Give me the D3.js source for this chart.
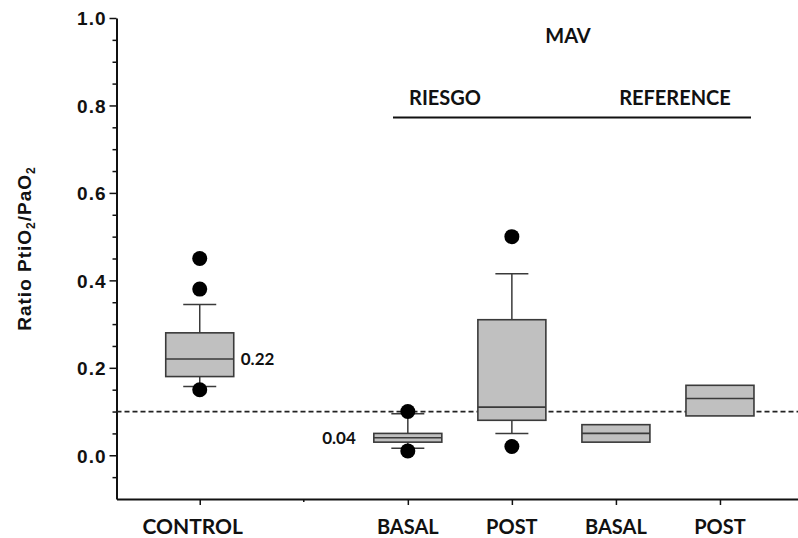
<!DOCTYPE html>
<html>
<head>
<meta charset="utf-8">
<script src="https://cdn.jsdelivr.net/npm/d3@7"></script>
<style>
  html, body { margin: 0; padding: 0; background: #fff; }
  svg { display: block; }
  .tick-label { font-family: "Liberation Sans", Arial, sans-serif; font-weight: bold; font-size: 19px; letter-spacing: 1px; fill: #111; }
  .cat-label { font-family: Lato, "Open Sans", sans-serif; font-weight: bold; font-size: 20px; fill: #111; }
  .value-label { font-family: Lato, "Open Sans", sans-serif; font-weight: bold; font-size: 17px; fill: #111; }
</style>
</head>
<body>
<svg id="chart" width="798" height="538"></svg>
<script>
// Box plot of the PtiO2/PaO2 ratio per group
const categories = ["CONTROL", "BASAL", "POST", "BASAL", "POST"];
const slots = [1, 3, 4, 5, 6];              // category slot on the x axis (slot 2 is an empty gap)
const q1 = [0.18, 0.03, 0.08, 0.03, 0.09];
const medians = [0.22, 0.04, 0.11, 0.05, 0.13];
const q3 = [0.28, 0.05, 0.31, 0.07, 0.16];
const whiskerLow = [0.157, 0.016, 0.05, null, null];
const whiskerHigh = [0.345, 0.095, 0.415, null, null];
const outliers = [[0.45, 0.38, 0.15], [0.10, 0.01], [0.50, 0.02], [], []];
const medianLabels = [{ idx: 0, text: "0.22", side: "right" }, { idx: 1, text: "0.04", side: "left" }];
const threshold = 0.10;
const yMajorTicks = [0.0, 0.2, 0.4, 0.6, 0.8, 1.0];
const yMinorTicks = [-0.05, 0.05, 0.1, 0.15, 0.25, 0.3, 0.35, 0.45, 0.5, 0.55, 0.65, 0.7, 0.75, 0.85, 0.9, 0.95];
const groupTitle = "MAV";
const subgroups = [{ name: "RIESGO", slots: [3, 4] }, { name: "REFERENCE", slots: [5, 6] }];

const svg = d3.select("#chart");
const W = 798;

const x = d3.scaleLinear().domain([0.2, 6.75]).range([116.5, W]);
const y = d3.scaleLinear().domain([-0.1, 1.0]).range([499, 18]);

const boxHalf = 34, capHalf = 16.5;
const strokeCol = "#3a3a3a";

// Y axis with major (labelled) and minor ticks
const yAxis = d3.axisLeft(y).tickValues(yMajorTicks).tickFormat(d3.format(".1f")).tickSize(7).tickSizeOuter(0);
const gy = svg.append("g").attr("transform", `translate(${x(0.2)},0)`).call(yAxis);
gy.select(".domain").attr("stroke", "#111").attr("stroke-width", 2);
gy.selectAll(".tick line").attr("stroke", "#111").attr("stroke-width", 1.5);
gy.selectAll(".tick text").attr("class", "tick-label").attr("x", -10).attr("dy", "0.36em");
const gyMinor = svg.append("g").attr("transform", `translate(${x(0.2)},0)`)
  .call(d3.axisLeft(y).tickValues(yMinorTicks).tickFormat("").tickSize(4).tickSizeOuter(0));
gyMinor.select(".domain").remove();
gyMinor.selectAll(".tick line").attr("stroke", "#111").attr("stroke-width", 1.5);

// Y axis title with subscripts
const yt = svg.append("text")
  .attr("class", "tick-label")
  .attr("transform", `translate(31,${(y(1.0) + y(-0.1)) / 2 - 10}) rotate(-90)`)
  .attr("text-anchor", "middle");
yt.append("tspan").text("Ratio PtiO");
yt.append("tspan").text("2").attr("dy", 4).style("font-size", "12px");
yt.append("tspan").text("/PaO").attr("dy", -4);
yt.append("tspan").text("2").attr("dy", 4).style("font-size", "12px");

// X axis
const xAxis = d3.axisBottom(x).tickValues([1, 3, 4, 5, 6]).tickFormat("").tickSize(6).tickSizeOuter(0);
const gx = svg.append("g").attr("transform", `translate(0,${y(-0.1)})`).call(xAxis);
gx.select(".domain").attr("stroke", "#111").attr("stroke-width", 2);
gx.selectAll(".tick line").attr("stroke", "#111").attr("stroke-width", 1.5);
gx.append("line").attr("x1", x(2)).attr("x2", x(2)).attr("y1", 0).attr("y2", 3)
  .attr("stroke", "#111").attr("stroke-width", 1.5);

svg.append("g").selectAll("text").data(categories).join("text")
  .attr("class", "cat-label")
  .attr("x", (d, i) => x(slots[i]) + (i === 0 ? -7 : 0))
  .attr("y", 534)
  .attr("text-anchor", "middle")
  .style("font-size", (d, i) => i === 0 ? "21px" : "20px")
  .text(d => d);

// Reference threshold line
svg.append("line")
  .attr("x1", x(0.2)).attr("x2", W)
  .attr("y1", y(threshold)).attr("y2", y(threshold))
  .attr("stroke", "#222").attr("stroke-width", 1.8)
  .attr("stroke-dasharray", "5,3");

// Boxes
const boxes = svg.append("g");
categories.forEach((c, i) => {
  const cx = x(slots[i]);
  const g = boxes.append("g");
  if (whiskerHigh[i] != null) {
    g.append("line").attr("x1", cx).attr("x2", cx).attr("y1", y(q3[i])).attr("y2", y(whiskerHigh[i]))
      .attr("stroke", strokeCol).attr("stroke-width", 1.5);
    g.append("line").attr("x1", cx - capHalf).attr("x2", cx + capHalf).attr("y1", y(whiskerHigh[i])).attr("y2", y(whiskerHigh[i]))
      .attr("stroke", strokeCol).attr("stroke-width", 1.5);
  }
  if (whiskerLow[i] != null) {
    g.append("line").attr("x1", cx).attr("x2", cx).attr("y1", y(q1[i])).attr("y2", y(whiskerLow[i]))
      .attr("stroke", strokeCol).attr("stroke-width", 1.5);
    g.append("line").attr("x1", cx - capHalf).attr("x2", cx + capHalf).attr("y1", y(whiskerLow[i])).attr("y2", y(whiskerLow[i]))
      .attr("stroke", strokeCol).attr("stroke-width", 1.5);
  }
  g.append("rect")
    .attr("x", cx - boxHalf).attr("width", boxHalf * 2)
    .attr("y", y(q3[i])).attr("height", y(q1[i]) - y(q3[i]))
    .attr("fill", "#c0c0c0").attr("stroke", strokeCol).attr("stroke-width", 1.6);
  g.append("line").attr("x1", cx - boxHalf).attr("x2", cx + boxHalf).attr("y1", y(medians[i])).attr("y2", y(medians[i]))
    .attr("stroke", strokeCol).attr("stroke-width", 1.6);
  g.selectAll("circle").data(outliers[i]).join("circle")
    .attr("cx", cx).attr("cy", d => y(d)).attr("r", 7.5).attr("fill", "#000");
});

// Median value labels
svg.append("g").selectAll("text").data(medianLabels).join("text")
  .attr("class", "value-label")
  .attr("x", d => d.side === "right" ? x(slots[d.idx]) + boxHalf + 7 : x(slots[d.idx]) - boxHalf - 18)
  .attr("y", d => y(medians[d.idx]) + 6)
  .attr("text-anchor", d => d.side === "right" ? "start" : "end")
  .text(d => d.text);

// Group headings
svg.append("text").attr("class", "cat-label").attr("x", 568).attr("y", 43)
  .attr("text-anchor", "middle").text(groupTitle);
svg.append("line").attr("x1", 393).attr("x2", 751).attr("y1", 117.5).attr("y2", 117.5)
  .attr("stroke", "#111").attr("stroke-width", 2);
svg.append("g").selectAll("text").data(subgroups).join("text")
  .attr("class", "cat-label")
  .attr("x", (d, i) => i === 0 ? 445 : 675)
  .attr("y", 105)
  .attr("text-anchor", "middle")
  .text(d => d.name);
</script>
</body>
</html>
